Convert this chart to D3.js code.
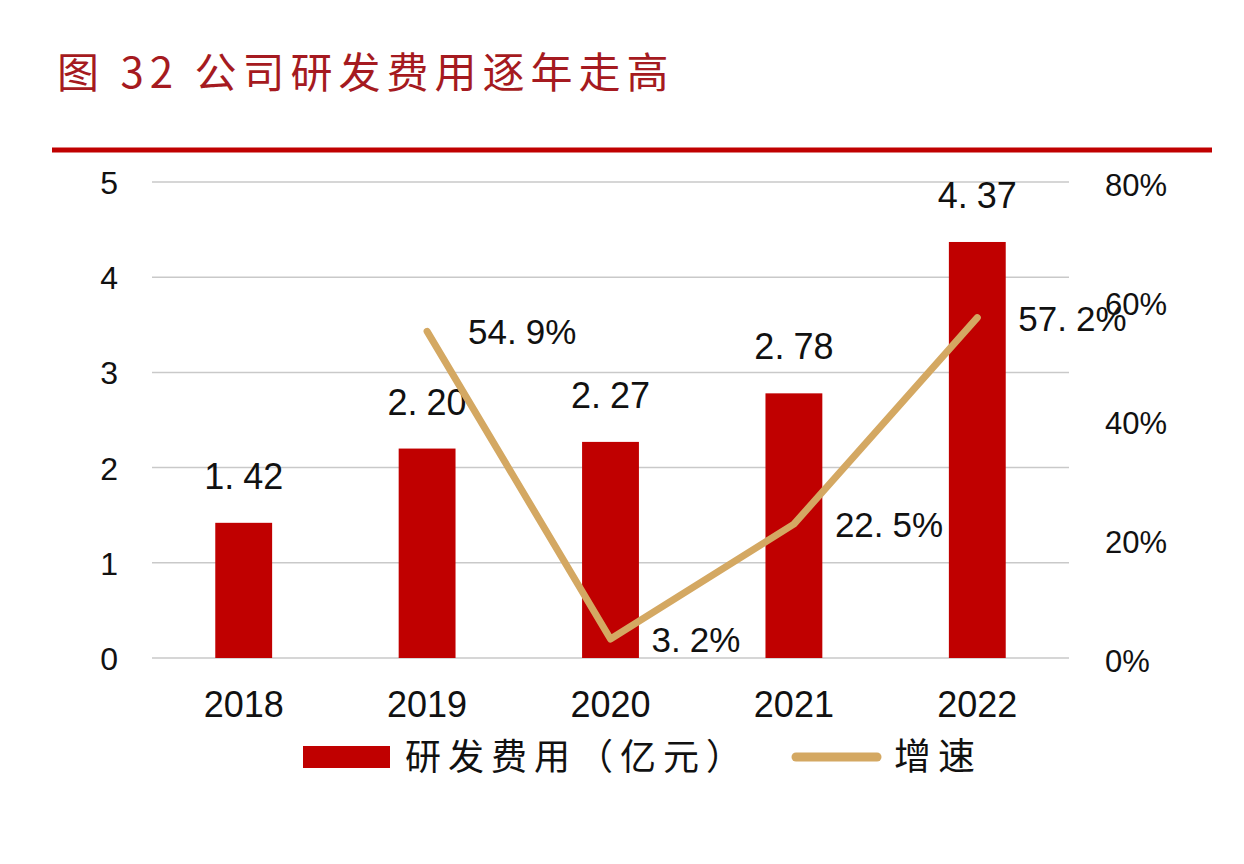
<!DOCTYPE html>
<html>
<head>
<meta charset="utf-8">
<script src="https://cdn.jsdelivr.net/npm/d3@7"></script>
<style>
  html, body { margin: 0; padding: 0; background: #ffffff; }
  svg { display: block; }
</style>
</head>
<body>
<svg id="chart" width="1244" height="864"></svg>
<script>
const titleText = "图 32 公司研发费用逐年走高";
const categories = ["2018", "2019", "2020", "2021", "2022"];
const rdExpense = [1.42, 2.20, 2.27, 2.78, 4.37];
const rdLabels = ["1.42", "2.20", "2.27", "2.78", "4.37"];
const growth = [null, 54.9, 3.2, 22.5, 57.2];
const growthLabels = [null, "54.9%", "3.2%", "22.5%", "57.2%"];
const leftTicks = [0, 1, 2, 3, 4, 5];
const rightTicks = [0, 20, 40, 60, 80];
const legendNames = ["研发费用（亿元）", "增速"];

(function () {
const BAR = "#C00000", LINE = "#D4A862", GRID = "#C9C9C9";
const LATIN = "'Liberation Sans', Arial, sans-serif";
const CJK = "'Noto Sans CJK SC', 'Noto Sans', sans-serif";

const svg = d3.select("#chart");
svg.append("rect").attr("width", 1244).attr("height", 864).attr("fill", "#ffffff");

// Title
svg.append("text").attr("x", 57).attr("y", 88)
  .attr("font-family", CJK).attr("font-size", 42).attr("letter-spacing", 6)
  .attr("fill", "#A51A20").text(titleText);
svg.append("rect").attr("x", 52).attr("y", 147.5).attr("width", 1160).attr("height", 5).attr("fill", BAR);

const pL = 152, pR = 1069, pT = 182, pB = 658;
const x = d3.scaleBand().domain(categories).range([pL, pR]).paddingInner(0.69).paddingOuter(0.345);
const yL = d3.scaleLinear().domain([0, 5]).range([pB, pT]);
const yR = d3.scaleLinear().domain([0, 80]).range([pB, pT]);

// gridlines
svg.append("g").selectAll("line").data(leftTicks).join("line")
  .attr("x1", pL).attr("x2", pR)
  .attr("y1", d => yL(d)).attr("y2", d => yL(d))
  .attr("stroke", GRID).attr("stroke-width", 1.5);

// axes
const gL = svg.append("g").attr("transform", `translate(${pL},0)`)
  .call(d3.axisLeft(yL).tickValues(leftTicks).tickSize(0).tickPadding(34).tickFormat(d3.format("d")));
const gR = svg.append("g").attr("transform", `translate(${pR},0)`)
  .call(d3.axisRight(yR).tickValues(rightTicks).tickSize(0).tickPadding(36).tickFormat(d => d + "%"));
const gX = svg.append("g").attr("transform", `translate(0,${pB})`)
  .call(d3.axisBottom(x).tickSize(0).tickPadding(33));
[gL, gR, gX].forEach(g => {
  g.select(".domain").remove();
  g.selectAll("text").attr("font-family", LATIN).attr("fill", "#111");
});
gL.selectAll("text").attr("font-size", 32).attr("dy", "0.36em");
gR.selectAll("text").attr("font-size", 31).attr("dy", "0.42em");
gX.selectAll("text").attr("font-size", 36);

// bars
const rows = categories.map((c, i) => ({ c, v: rdExpense[i], lab: rdLabels[i], g: growth[i], gl: growthLabels[i] }));
svg.append("g").selectAll("rect").data(rows).join("rect")
  .attr("x", d => x(d.c)).attr("width", x.bandwidth())
  .attr("y", d => yL(d.v)).attr("height", d => yL(0) - yL(d.v))
  .attr("fill", BAR);

// wide-period label helper
function wideLabel(sel, str) {
  const parts = str.split(".");
  sel.append("tspan").text(parts[0] + ".");
  sel.append("tspan").attr("dx", 9).text(parts[1]);
}

svg.append("g").selectAll("text").data(rows).join("text")
  .attr("x", d => x(d.c) + x.bandwidth() / 2)
  .attr("y", d => yL(d.v) - 34)
  .attr("text-anchor", "middle")
  .attr("font-family", LATIN).attr("font-size", 36).attr("fill", "#111")
  .each(function(d) { wideLabel(d3.select(this), d.lab); });

// line
const cx = d => x(d.c) + x.bandwidth() / 2;
const line = d3.line().defined(d => d.g != null).x(cx).y(d => yR(d.g));
svg.append("path").datum(rows).attr("d", line)
  .attr("fill", "none").attr("stroke", LINE).attr("stroke-width", 7)
  .attr("stroke-linecap", "round").attr("stroke-linejoin", "round");

svg.append("g").selectAll("text").data(rows.filter(d => d.g != null)).join("text")
  .attr("x", d => cx(d) + 41)
  .attr("y", d => yR(d.g) + 13)
  .attr("font-family", LATIN).attr("font-size", 35).attr("fill", "#111")
  .each(function(d) { wideLabel(d3.select(this), d.gl); });

// legend
const lg = svg.append("g");
lg.append("rect").attr("x", 303).attr("y", 746).attr("width", 87).attr("height", 22).attr("fill", BAR);
lg.append("text").attr("x", 405).attr("y", 770)
  .attr("font-family", CJK).attr("font-size", 36).attr("letter-spacing", 7)
  .attr("fill", "#111").text(legendNames[0]);
lg.append("line").attr("x1", 796).attr("x2", 877).attr("y1", 757).attr("y2", 757)
  .attr("stroke", LINE).attr("stroke-width", 9).attr("stroke-linecap", "round");
lg.append("text").attr("x", 894).attr("y", 770)
  .attr("font-family", CJK).attr("font-size", 37).attr("letter-spacing", 7)
  .attr("fill", "#111").text(legendNames[1]);
})();
</script>
</body>
</html>
